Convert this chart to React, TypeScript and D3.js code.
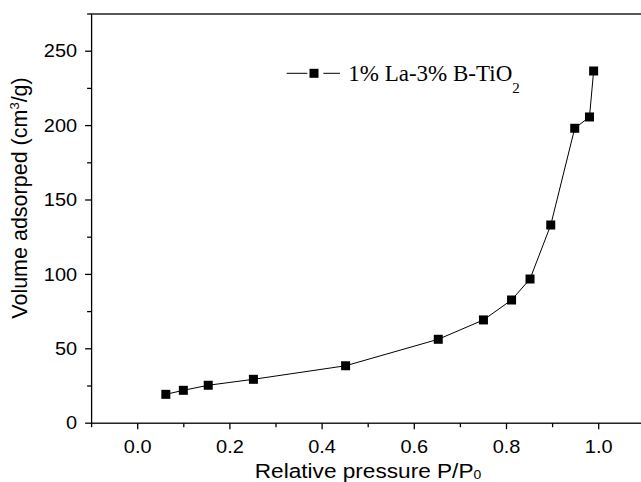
import React, { useEffect, useRef } from "react";
import * as d3 from "d3";

// Isotherm points
const pressure = [0.061, 0.099, 0.153, 0.251, 0.451, 0.652, 0.75, 0.811, 0.851, 0.896, 0.948, 0.98, 0.989];
const volume = [19.4, 22.1, 25.5, 29.5, 38.6, 56.4, 69.4, 82.8, 96.9, 133.2, 198.2, 205.8, 236.7];

const xMajorTicks = [0, 0.2, 0.4, 0.6, 0.8, 1.0];
const xMinorTicks = [-0.1, 0.1, 0.3, 0.5, 0.7, 0.9];
const yMajorTicks = [0, 50, 100, 150, 200, 250];
const yMinorTicks = [25, 75, 125, 175, 225, 275];

const seriesName = "1% La-3% B-TiO";

const width = 641,
  height = 482;

function drawChart(svgEl: SVGSVGElement) {
  const svg = d3.select(svgEl);
  svg.selectAll("*").remove();

  const x = d3.scaleLinear().domain([-0.1, 1.1]).range([91.6, 644.8]);
  const y = d3.scaleLinear().domain([0, 275]).range([423.2, 14.0]);

  const sans = "'Liberation Sans', Arial, sans-serif";

  // frame
  svg
    .append("rect")
    .attr("x", x(-0.1))
    .attr("y", y(275))
    .attr("width", x(1.1) - x(-0.1))
    .attr("height", y(0) - y(275))
    .attr("fill", "none")
    .attr("stroke", "#000")
    .attr("stroke-width", 1.3);

  // x axis ticks
  const xAxis = svg.append("g").attr("transform", `translate(0, ${y(0)})`);
  xAxis
    .selectAll("line.major")
    .data(xMajorTicks)
    .join("line")
    .attr("x1", (d) => x(d))
    .attr("x2", (d) => x(d))
    .attr("y1", 0)
    .attr("y2", 6)
    .attr("stroke", "#000")
    .attr("stroke-width", 1.3);
  xAxis
    .selectAll("line.minor")
    .data(xMinorTicks)
    .join("line")
    .attr("x1", (d) => x(d))
    .attr("x2", (d) => x(d))
    .attr("y1", 0)
    .attr("y2", 4)
    .attr("stroke", "#000")
    .attr("stroke-width", 1.3);
  xAxis
    .selectAll("text")
    .data(xMajorTicks)
    .join("text")
    .attr("transform", (d) => `translate(${x(d)}, 30.1) scale(1.14, 1)`)
    .attr("text-anchor", "middle")
    .attr("font-family", sans)
    .attr("font-size", 17.5)
    .text((d) => d3.format(".1f")(d));

  // y axis ticks
  const yAxis = svg.append("g").attr("transform", `translate(${x(-0.1)}, 0)`);
  yAxis
    .selectAll("line.major")
    .data(yMajorTicks)
    .join("line")
    .attr("x1", -6.5)
    .attr("x2", 0)
    .attr("y1", (d) => y(d))
    .attr("y2", (d) => y(d))
    .attr("stroke", "#000")
    .attr("stroke-width", 1.3);
  yAxis
    .selectAll("line.minor")
    .data(yMinorTicks)
    .join("line")
    .attr("x1", -4.5)
    .attr("x2", 0)
    .attr("y1", (d) => y(d))
    .attr("y2", (d) => y(d))
    .attr("stroke", "#000")
    .attr("stroke-width", 1.3);
  yAxis
    .selectAll("text")
    .data(yMajorTicks)
    .join("text")
    .attr("transform", (d) => `translate(-14.5, ${y(d) + 6.2}) scale(1.14, 1)`)
    .attr("text-anchor", "end")
    .attr("font-family", sans)
    .attr("font-size", 17.5)
    .text((d) => d);

  // axis titles
  const xTitle = svg
    .append("text")
    .attr("transform", "translate(368, 477.7) scale(1.16, 1)")
    .attr("text-anchor", "middle")
    .attr("font-family", sans)
    .attr("font-size", 19.5);
  xTitle.append("tspan").text("Relative pressure P/P");
  xTitle.append("tspan").attr("font-size", 12).attr("dy", 1).text("0");

  const yTitle = svg
    .append("text")
    .attr("transform", "translate(27, 198) rotate(-90)")
    .attr("text-anchor", "middle")
    .attr("font-family", sans)
    .attr("font-size", 21.5);
  yTitle.append("tspan").text("Volume adsorped (cm");
  yTitle.append("tspan").attr("font-size", 13).attr("dy", -8).text("3");
  yTitle.append("tspan").attr("dy", 8).text("/g)");

  // series line
  const points = pressure.map((p, i) => [p, volume[i]] as [number, number]);
  const line = d3
    .line<[number, number]>()
    .x((d) => x(d[0]))
    .y((d) => y(d[1]));
  svg
    .append("path")
    .datum(points)
    .attr("d", line)
    .attr("fill", "none")
    .attr("stroke", "#000")
    .attr("stroke-width", 1);

  // square markers
  const size = 9;
  svg
    .append("g")
    .selectAll("rect")
    .data(points)
    .join("rect")
    .attr("x", (d) => x(d[0]) - size / 2)
    .attr("y", (d) => y(d[1]) - size / 2)
    .attr("width", size)
    .attr("height", size)
    .attr("fill", "#000");

  // legend: line broken around the marker
  const legend = svg.append("g");
  [
    [286.7, 307.3],
    [323.3, 340],
  ].forEach(([a, b]) => {
    legend
      .append("line")
      .attr("x1", a)
      .attr("x2", b)
      .attr("y1", 73.3)
      .attr("y2", 73.3)
      .attr("stroke", "#000")
      .attr("stroke-width", 1);
  });
  legend
    .append("rect")
    .attr("x", 314 - 4.5)
    .attr("y", 73.3 - 4.5)
    .attr("width", 9)
    .attr("height", 9)
    .attr("fill", "#000");
  const legendText = legend
    .append("text")
    .attr("x", 348.3)
    .attr("y", 80.7)
    .attr("font-family", "'Liberation Serif', 'Times New Roman', serif")
    .attr("font-size", 23);
  legendText.append("tspan").text(seriesName);
  legendText.append("tspan").attr("font-size", 15).attr("dy", 12.6).text("2");
}

export default function App() {
  const ref = useRef<SVGSVGElement>(null);

  useEffect(() => {
    if (ref.current) drawChart(ref.current);
  }, []);

  return (
    <svg
      ref={ref}
      width={width}
      height={height}
      style={{ position: "absolute", left: 0, top: 0, background: "#fff" }}
    ></svg>
  );
}
